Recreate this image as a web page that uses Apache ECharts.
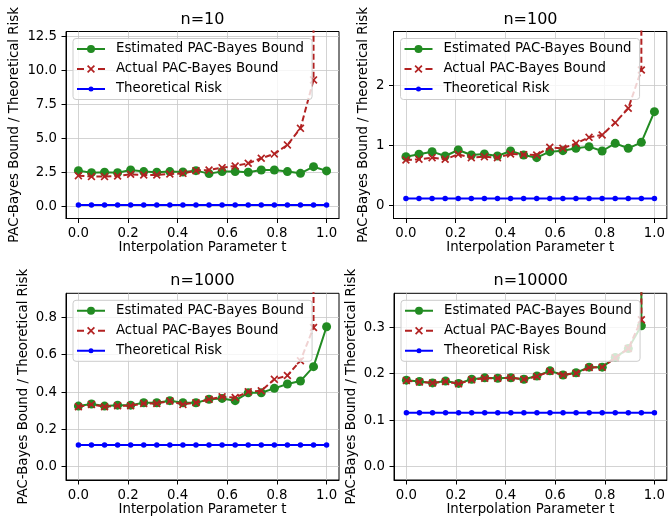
<!DOCTYPE html>
<html>
<head>
<meta charset="utf-8">
<script src="https://cdn.jsdelivr.net/npm/echarts@6/dist/echarts.min.js"></script>
<style>
  html, body { margin: 0; padding: 0; background: #fff; }
  #chart { width: 668px; height: 521px; }
</style>
</head>
<body>
<div id="chart"></div>
<script>
// interpolation parameter t (20 points from 0 to 1)
const tValues = [0, 0.0526, 0.1053, 0.1579, 0.2105, 0.2632, 0.3158, 0.3684, 0.4211, 0.4737,
  0.5263, 0.5789, 0.6316, 0.6842, 0.7368, 0.7895, 0.8421, 0.8947, 0.9474, 1];

const seriesNames = ['Estimated PAC-Bayes Bound', 'Actual PAC-Bayes Bound', 'Theoretical Risk'];
const panelTitles = ['n=10', 'n=100', 'n=1000', 'n=10000'];

// n=10
const est10 = [2.65, 2.50, 2.53, 2.50, 2.70, 2.58, 2.53, 2.58, 2.55, 2.65, 2.43, 2.58, 2.58, 2.53, 2.70, 2.70, 2.58, 2.45, 2.94, 2.63];
const act10 = [2.28, 2.21, 2.21, 2.26, 2.38, 2.33, 2.33, 2.40, 2.45, 2.65, 2.70, 2.87, 2.99, 3.19, 3.56, 3.88, 4.54, 5.76, 9.32, 10000];
// n=100
const est100 = [0.814, 0.853, 0.897, 0.825, 0.925, 0.842, 0.858, 0.825, 0.908, 0.842, 0.797, 0.897, 0.914, 0.953, 0.981, 0.908, 1.036, 0.953, 1.053, 1.564];
const act100 = [0.758, 0.770, 0.797, 0.770, 0.853, 0.797, 0.814, 0.797, 0.858, 0.847, 0.842, 0.970, 0.953, 1.036, 1.136, 1.175, 1.381, 1.620, 2.258, 10000];
// n=1000
const est1000 = [0.325, 0.336, 0.325, 0.330, 0.330, 0.343, 0.343, 0.354, 0.343, 0.343, 0.361, 0.366, 0.354, 0.396, 0.396, 0.420, 0.443, 0.459, 0.536, 0.750];
const act1000 = [0.321, 0.334, 0.321, 0.327, 0.327, 0.339, 0.339, 0.352, 0.334, 0.343, 0.361, 0.375, 0.371, 0.402, 0.407, 0.468, 0.489, 0.568, 0.746, 10000];
// n=10000
const est10000 = [0.186, 0.183, 0.180, 0.184, 0.179, 0.188, 0.191, 0.190, 0.191, 0.188, 0.195, 0.206, 0.197, 0.202, 0.214, 0.214, 0.235, 0.254, 0.303, 10000];
const act10000 = [0.185, 0.182, 0.180, 0.183, 0.178, 0.187, 0.190, 0.190, 0.191, 0.188, 0.194, 0.205, 0.197, 0.201, 0.213, 0.214, 0.234, 0.254, 0.316, 10000];
// theoretical risk (same in every panel)
const risk = [0.116, 0.116, 0.116, 0.116, 0.116, 0.116, 0.116, 0.116, 0.116, 0.116,
  0.116, 0.116, 0.116, 0.116, 0.116, 0.116, 0.116, 0.116, 0.116, 0.116];

// tick labels
const xTicks = [0, 0.2, 0.4, 0.6, 0.8, 1.0];
const yTicks10 = [0, 2.5, 5, 7.5, 10, 12.5];
const yTicks100 = [0, 1, 2];
const yTicks1000 = [0, 0.2, 0.4, 0.6, 0.8];
const yTicks10000 = [0, 0.1, 0.2, 0.3];

const FONT = 'DejaVu Sans';
const GREEN = '#228b22';
const RED = '#b22222';
const BLUE = '#0000ff';
const X_SYMBOL = 'path://M0,1.5L1.5,0L5,3.5L8.5,0L10,1.5L6.5,5L10,8.5L8.5,10L5,6.5L1.5,10L0,8.5L3.5,5Z';

// legend icons: line + marker, like matplotlib handles
const ICON_EST = 'path://M0,3L28,3L28,5L0,5Z M18,4A4,4 0 1,1 10,4A4,4 0 1,1 18,4Z';
const ICON_ACT = 'path://M0,3L7,3L7,5L0,5Z M21,3L28,3L28,5L21,5Z ' +
  'M10,1.2L11.2,0L14,2.8L16.8,0L18,1.2L15.2,4L18,6.8L16.8,8L14,5.2L11.2,8L10,6.8L12.8,4Z';
const ICON_RISK = 'path://M0,1.5L28,1.5L28,3.5L0,3.5Z M16.5,2.5A2.5,2.5 0 1,1 11.5,2.5A2.5,2.5 0 1,1 16.5,2.5Z';

const panels = [
  {grid: {left: 66, top: 31.5, width: 273, height: 187}, ymin: -0.87, ymax: 12.88, yTicks: yTicks10, dec: 1, nameGap: 45, est: est10, act: act10},
  {grid: {left: 393.5, top: 31.5, width: 274, height: 187}, ymin: -0.217, ymax: 2.9, yTicks: yTicks100, dec: 0, nameGap: 23, est: est100, act: act100},
  {grid: {left: 66, top: 293.3, width: 273, height: 186.7}, ymin: -0.071, ymax: 0.929, yTicks: yTicks1000, dec: 1, nameGap: 36, est: est1000, act: act1000},
  {grid: {left: 394, top: 293.3, width: 273.5, height: 186.7}, ymin: -0.029, ymax: 0.373, yTicks: yTicks10000, dec: 1, nameGap: 36, est: est10000, act: act10000}
];

const pairs = (ys) => tValues.map((t, i) => [t, ys[i]]);

const chart = echarts.init(document.getElementById('chart'), null, {renderer: 'canvas'});

const option = {
  animation: false,
  backgroundColor: '#fff',
  textStyle: {fontFamily: FONT, color: '#000'},
  title: [],
  legend: [],
  grid: [],
  xAxis: [],
  yAxis: [],
  series: []
};

panels.forEach((p, idx) => {
  option.grid.push(Object.assign({show: true, borderColor: '#000', borderWidth: 1, containLabel: false}, p.grid));

  option.title.push({
    text: panelTitles[idx],
    left: p.grid.left + p.grid.width / 2,
    top: p.grid.top - 20,
    textAlign: 'center',
    padding: 0,
    textStyle: {fontFamily: FONT, fontSize: 16, fontWeight: 'normal', color: '#000', lineHeight: 16}
  });

  option.legend.push({
    orient: 'vertical',
    left: p.grid.left + 7,
    top: p.grid.top + 7,
    data: [
      {name: seriesNames[0], icon: ICON_EST},
      {name: seriesNames[1], icon: ICON_ACT},
      {name: seriesNames[2], icon: ICON_RISK}
    ],
    selectedMode: false,
    itemWidth: 28,
    itemHeight: 12,
    itemGap: 5,
    padding: [3, 8, 3, 4],
    backgroundColor: 'rgba(255,255,255,0.8)',
    borderColor: '#cccccc',
    borderWidth: 1,
    borderRadius: 3,
    textStyle: {fontFamily: FONT, fontSize: 13.3, color: '#000', lineHeight: 15, padding: [0, 0, 0, 6]}
  });

  option.xAxis.push({
    type: 'value',
    gridIndex: idx,
    min: -0.05,
    max: 1.05,
    minInterval: 0.2,
    maxInterval: 0.2,
    name: 'Interpolation Parameter t',
    nameLocation: 'middle',
    nameGap: 23,
    nameTextStyle: {fontFamily: FONT, fontSize: 13.3, color: '#000'},
    axisLine: {show: true, onZero: false, lineStyle: {color: '#000', width: 1}},
    axisTick: {show: true, length: 4.5, customValues: xTicks, lineStyle: {color: '#000', width: 1}},
    axisLabel: {show: true, margin: 9, fontFamily: FONT, fontSize: 13.3, color: '#000', customValues: xTicks,
      formatter: (v) => v.toFixed(1)},
    splitLine: {show: true, lineStyle: {color: '#c8c8c8', width: 0.8}}
  });

  const step = p.yTicks[1] - p.yTicks[0];
  option.yAxis.push({
    type: 'value',
    gridIndex: idx,
    min: p.ymin,
    max: p.ymax,
    minInterval: step,
    maxInterval: step,
    name: 'PAC-Bayes Bound / Theoretical Risk',
    nameLocation: 'middle',
    nameGap: p.nameGap,
    nameTextStyle: {fontFamily: FONT, fontSize: 13.3, color: '#000'},
    axisLine: {show: true, onZero: false, lineStyle: {color: '#000', width: 1}},
    axisTick: {show: true, length: 4.5, customValues: p.yTicks, lineStyle: {color: '#000', width: 1}},
    axisLabel: {show: true, margin: 9, fontFamily: FONT, fontSize: 13.3, color: '#000', customValues: p.yTicks,
      formatter: (v) => v.toFixed(p.dec)},
    splitLine: {show: true, lineStyle: {color: '#c8c8c8', width: 0.8}}
  });

  option.series.push(
    {
      name: seriesNames[0], type: 'line', xAxisIndex: idx, yAxisIndex: idx,
      data: pairs(p.est), symbol: 'circle', symbolSize: 9, showSymbol: true, clip: true,
      itemStyle: {color: GREEN}, lineStyle: {color: GREEN, width: 2}, z: 2
    },
    {
      name: seriesNames[1], type: 'line', xAxisIndex: idx, yAxisIndex: idx,
      data: pairs(p.act), symbol: X_SYMBOL, symbolSize: 8, showSymbol: true, clip: true,
      itemStyle: {color: RED}, lineStyle: {color: RED, width: 2, type: [6, 3]}, z: 3
    },
    {
      name: seriesNames[2], type: 'line', xAxisIndex: idx, yAxisIndex: idx,
      data: pairs(risk), symbol: 'circle', symbolSize: 5.5, showSymbol: true, clip: true,
      itemStyle: {color: BLUE}, lineStyle: {color: BLUE, width: 2}, z: 4
    }
  );
});

chart.setOption(option);
</script>
</body>
</html>
